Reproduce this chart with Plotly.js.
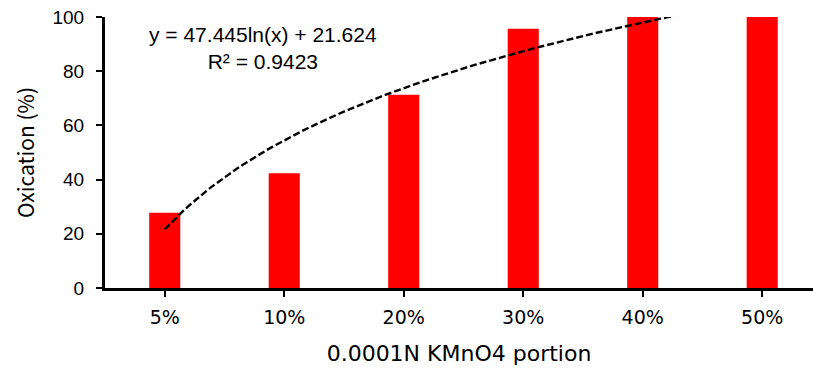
<!DOCTYPE html>
<html>
<head>
<meta charset="utf-8">
<script src="https://cdn.plot.ly/plotly-3.0.1.min.js"></script>
<style>html,body{margin:0;padding:0;background:#fff;}#chart{width:813px;height:372px;}</style>
</head>
<body>
<div id="chart"></div>
<script>
// Data
const categories = ["5%", "10%", "20%", "30%", "40%", "50%"];
const oxidation = [27.8, 42.3, 71.3, 95.7, 100, 100];
// Trendline coefficients as printed on the chart: y = a ln(x) + b
const trendA = 47.445;
const trendB = 21.624;
const trendLabel = "y = 47.445ln(x) + 21.624";
const r2Label = "R² = 0.9423";
const yTicks = [0, 20, 40, 60, 80, 100];

const idx = categories.map((c, i) => i);
const tx = [], ty = [];
for (let k = 0; k <= 100; k++) {
  const x = 1 + k * (categories.length - 1) / 100; // Excel x = 1..n
  tx.push(x - 1);
  ty.push(trendA * Math.log(x) + trendB);
}

const wideFont = "'DejaVu Sans', 'Noto Sans', sans-serif";
const arialFont = "'Liberation Sans', Arial, sans-serif";

Plotly.newPlot('chart', [
  {type: 'bar', x: idx, y: oxidation, width: 0.26,
   marker: {color: '#ff0000', line: {width: 0}}, hoverinfo: 'none'},
  {type: 'scatter', mode: 'lines', x: tx, y: ty,
   line: {color: '#000', width: 2.4, dash: '7px,3px'}, hoverinfo: 'none'}
], {
  width: 813, height: 372,
  margin: {l: 105, r: 0, t: 17, b: 84},
  paper_bgcolor: '#fff', plot_bgcolor: '#fff',
  showlegend: false,
  xaxis: {
    range: [-0.5, 5.425], tickvals: idx, ticktext: categories,
    showgrid: false, zeroline: false,
    showline: true, linecolor: '#000', linewidth: 3,
    ticks: 'outside', ticklen: 6, tickwidth: 2, tickcolor: '#000',
    ticklabelstandoff: 4,
    tickfont: {family: wideFont, size: 19, color: '#000'},
    title: {text: '0.0001N KMnO4 portion', font: {family: wideFont, size: 22, color: '#000'}, standoff: 19}
  },
  yaxis: {
    range: [0, 100], tickvals: yTicks,
    showgrid: false, zeroline: false,
    showline: true, linecolor: '#000', linewidth: 3,
    ticks: 'outside', ticklen: 6, tickwidth: 2, tickcolor: '#000',
    ticklabelstandoff: 8,
    tickfont: {family: arialFont, size: 19, color: '#000'},
    title: {text: 'Oxication (%)', font: {family: "'Noto Sans CJK KR', 'Noto Sans', sans-serif", size: 21, color: '#000'}, standoff: 13}
  },
  annotations: [
    {text: trendLabel + '<br>' + r2Label, xref: 'paper', yref: 'paper',
     x: (263 - 105) / 708, y: (288 - 48) / 271, xanchor: 'center', yanchor: 'middle',
     showarrow: false, align: 'center', font: {family: arialFont, size: 21, color: '#000'}}
  ]
}, {staticPlot: true});
</script>
</body>
</html>
